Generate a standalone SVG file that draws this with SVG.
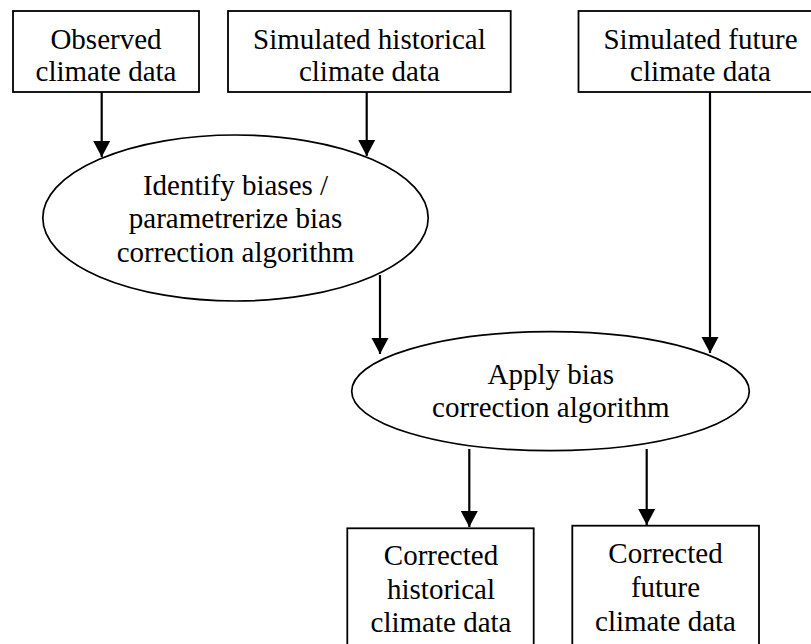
<svg xmlns="http://www.w3.org/2000/svg" width="811" height="644" viewBox="0 0 811 644">
  <style>
    .box { fill: #ffffff; stroke: #000000; stroke-width: 1.8; }
    .oval { fill: #ffffff; stroke: #000000; stroke-width: 1.7; }
    .lbl { font-family: "Liberation Serif", "Times New Roman", serif; font-size: 29px; fill: #000000; text-anchor: middle; }
    .conn { stroke: #000000; stroke-width: 2.2; fill: none; marker-end: url(#head); }
  </style>
  <defs>
    <marker id="head" markerUnits="userSpaceOnUse" markerWidth="18" markerHeight="18" viewBox="0 0 18 18" refX="16" refY="9" orient="auto">
      <path d="M0,0.5 L16,9 L0,17.5 Z" fill="#000000"/>
    </marker>
  </defs>
  <rect width="811" height="644" fill="#ffffff"/>

  <!-- connectors -->
  <g id="connectors">
    <line class="conn" x1="101.7" y1="92" x2="101.7" y2="157"/>
    <line class="conn" x1="366.7" y1="92" x2="366.7" y2="156"/>
    <line class="conn" x1="380" y1="275" x2="380" y2="354"/>
    <line class="conn" x1="710" y1="92" x2="710" y2="353"/>
    <line class="conn" x1="469.3" y1="449" x2="469.3" y2="527"/>
    <line class="conn" x1="646.7" y1="449" x2="646.7" y2="525"/>
  </g>

  <g id="observed">
    <rect class="box" x="13" y="11" width="186" height="81"/>
    <text class="lbl" x="106" y="49">Observed</text>
    <text class="lbl" x="106" y="81">climate data</text>
  </g>

  <g id="sim-historical">
    <rect class="box" x="228" y="11" width="282.7" height="81"/>
    <text class="lbl" x="369.4" y="49">Simulated historical</text>
    <text class="lbl" x="369.4" y="81">climate data</text>
  </g>

  <g id="sim-future">
    <rect class="box" x="578.5" y="11" width="244" height="81"/>
    <text class="lbl" x="700.5" y="49">Simulated future</text>
    <text class="lbl" x="700.5" y="81">climate data</text>
  </g>

  <g id="identify">
    <ellipse class="oval" cx="235.5" cy="218" rx="192.7" ry="83"/>
    <text class="lbl" x="235.5" y="194.5">Identify biases /</text>
    <text class="lbl" x="235.5" y="228">parametrerize bias</text>
    <text class="lbl" x="235.5" y="261.5">correction algorithm</text>
  </g>

  <g id="apply">
    <ellipse class="oval" cx="550.5" cy="391.2" rx="198.8" ry="59.5"/>
    <text class="lbl" x="550.8" y="384">Apply bias</text>
    <text class="lbl" x="550.8" y="416.7">correction algorithm</text>
  </g>

  <g id="corr-historical">
    <rect class="box" x="347.3" y="528.3" width="186.4" height="130"/>
    <text class="lbl" x="441" y="565">Corrected</text>
    <text class="lbl" x="441" y="599">historical</text>
    <text class="lbl" x="441" y="632.3">climate data</text>
  </g>

  <g id="corr-future">
    <rect class="box" x="572.3" y="525.7" width="186.7" height="130"/>
    <text class="lbl" x="665.5" y="563.3">Corrected</text>
    <text class="lbl" x="665.5" y="597.3">future</text>
    <text class="lbl" x="665.5" y="630.7">climate data</text>
  </g>
</svg>
